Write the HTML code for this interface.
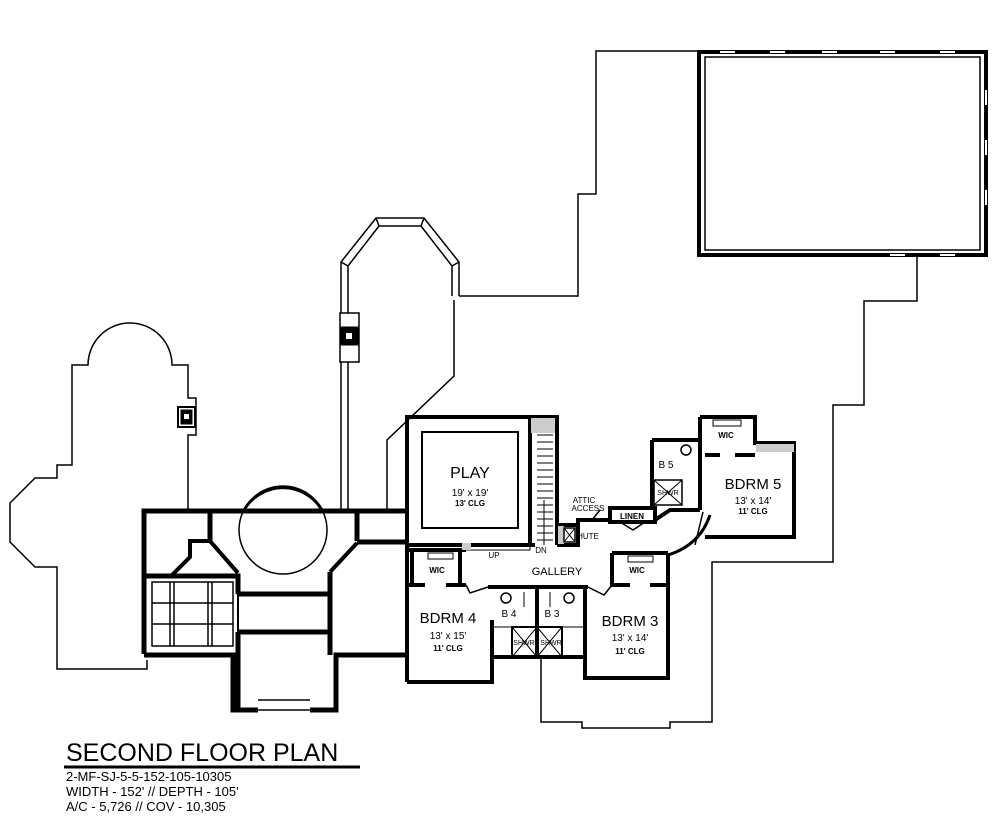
<!DOCTYPE html>
<html><head><meta charset="utf-8"><style>
html,body{margin:0;padding:0;background:#fff}
svg{display:block}
text{font-family:"Liberation Sans",Arial,sans-serif;fill:#000}
</style></head><body>
<svg width="1000" height="826" viewBox="0 0 1000 826" xmlns="http://www.w3.org/2000/svg">
<g fill="none" stroke="#000">
<path stroke-width="1.5" d="M459,296 L578,296 L578,194 L596,194 L596,51 L700,51"/>
<path stroke-width="1.5" d="M917,256 L917,301 L864,301 L864,405 L833,405 L833,562 L712,562 L712,722 L670,722 L670,728 L582,728 L582,722 L541,722 L541,657"/>
<path stroke-width="1.5" d="M454,300 L454,376 L387,440 L387,510"/>
<path stroke-width="1.5" d="M188,511 L188,435 L196,435 L196,398 L188,398 L188,365 L172,365 A42,42 0 0 0 88,365 L72,365 L72,465 L57,465 L57,478 L35,478 L10,503 L10,542 L35,567 L57,567 L57,669 L147,669 L147,660"/>
<rect x="178" y="407" width="17" height="20" stroke-width="2"/>
<rect x="181" y="410" width="11" height="14" fill="#000"/>
<rect x="184" y="414" width="5" height="5" fill="#fff" stroke="none"/>
<path stroke-width="1.5" d="M341,510 L341,262 L376,218 L424,218 L459,262 L459,296"/>
<path stroke-width="1.5" d="M348,510 L348,266 L379,226 L421,226 L452,266 L452,296"/>
<line x1="376" y1="218" x2="379" y2="226" stroke-width="1.5"/><line x1="424" y1="218" x2="421" y2="226" stroke-width="1.5"/>
<line x1="341" y1="262" x2="348" y2="266" stroke-width="1.5"/><line x1="459" y1="262" x2="452" y2="266" stroke-width="1.5"/>
<rect x="340" y="313" width="19" height="49" stroke-width="1.5" fill="#fff"/>
<rect x="340" y="327" width="18" height="18" fill="#000"/>
<rect x="346" y="333" width="6" height="6" fill="#fff" stroke="none"/>
<rect x="699" y="52" width="287" height="203" stroke-width="4"/>
<rect x="705" y="57" width="275" height="193" stroke-width="1.5"/>
<g stroke="#fff" stroke-width="2">
<path d="M720,52h15M770,52h15M822,52h15M880,52h15M940,52h15M890,255h15M940,255h15M986,90v15M986,140v15M986,190v15"/>
</g>
<g stroke-width="5">
<path d="M144,654 L144,511 L405,511"/>
<path d="M144,655 L233,655 L233,710 L258,710 M310,710 L336,710 L336,655 L407,655"/>
<path d="M210,511 L210,541"/>
<path d="M144,576 L238,576 L238,594"/>
<path d="M357,511 L357,541"/>
<path d="M357,542 L407,542"/>
<path d="M238,594 L330,594"/>
<path d="M238,632 L330,632"/>
<path d="M238,632 L238,710"/>
<path d="M330,572 L330,655"/>
</g>
<path stroke-width="1.5" d="M258,700 L310,700 M258,710 L310,710"/>
<path stroke-width="4" d="M172,575 L190,557 L190,541 L210,541 L238,573"/>
<path stroke-width="4" d="M357,543 L330,572"/>
<path stroke-width="2" d="M238,576 L238,632"/>
<rect x="152" y="582" width="81" height="64" stroke-width="1.5"/>
<path stroke-width="1.5" d="M152,603H233M152,624H233M170,582V646M212,582V646M174,582V646M208,582V646"/>
<circle cx="283" cy="530" r="44" stroke-width="1.5"/>
<path stroke-width="3" d="M243,512 A45,45 0 0 1 323,512"/>
<g stroke-width="4">
<path d="M407,682 L407,417 L557,417 L557,545"/>
<path d="M530,417 L530,545"/>
<path d="M407,545 L535,545"/>
<path d="M407,550 L466,550"/>
<path d="M412,550 L412,585 M460,550 L460,585 M407,585 L425,585 M446,585 L466,585"/>
<path d="M407,682 L492,682 L492,655"/>
<path d="M488,587 L588,587"/>
<path d="M492,620 L492,657 L585,657"/>
<path d="M537,587 L537,657"/>
<path d="M585,587 L585,678 L668,678 L668,553"/>
<path d="M612,553 L668,553"/>
<path d="M612,553 L612,585 L630,585 M650,585 L668,585"/>
<path d="M557,525 L578,525 L578,545 L557,545"/>
<path d="M578,545 L578,520 L610,520"/>
<path d="M610,508 L655,508 L655,522 L610,522 Z"/>
<path d="M655,520 L670,510 L700,510"/>
<path d="M652,440 L700,440 L700,510"/>
<path d="M652,440 L652,510"/>
<path d="M700,417 L755,417 L755,443 L794,443 L794,537 L705,537"/>
<path d="M700,417 L700,455 M705,455 L720,455 M735,455 L755,455"/>
</g>
<rect x="422" y="432" width="96" height="96" stroke-width="2"/>
<rect x="531" y="418" width="24" height="15" fill="#ccc" stroke="none"/>
<path stroke-width="1" d="M537,435H553M537,442H553M537,449H553M537,456H553M537,463H553M537,470H553M537,477H553M537,484H553M537,491H553M537,498H553M537,505H553M537,512H553M537,519H553M537,526H553M537,533H553M537,540H553M544,500V545"/>
<rect x="465" y="545" width="65" height="5" stroke-width="1"/>
<rect x="462" y="543" width="9" height="7" fill="#ccc" stroke="none"/>
<rect x="558" y="526" width="6" height="18" fill="#ccc" stroke="none"/>
<rect x="564" y="528" width="11" height="14" stroke-width="1.5"/>
<path stroke-width="1" d="M564,528L575,542M575,528L564,542"/>
<rect x="756" y="444" width="38" height="8" fill="#ccc" stroke="none"/>
<path stroke-width="3" d="M710,515 Q700,545 668,555"/>
<path stroke-width="1.5" d="M703,512 L695,545"/>
<path stroke-width="1.5" d="M466,585 L470,593 L488,587 M588,587 L604,595 L612,585 M620,522 L633,530 L645,522 M592,520 L600,510"/>
<rect x="512" y="627" width="25" height="30" stroke-width="2"/>
<rect x="537" y="627" width="25" height="30" stroke-width="2"/>
<path stroke-width="1" d="M512,627L537,657M537,627L512,657M537,627L562,657M562,627L537,657"/>
<rect x="654" y="480" width="28" height="25" stroke-width="1.5"/>
<path stroke-width="1" d="M654,480L682,505M682,480L654,505"/>
<circle cx="506" cy="598" r="5" stroke-width="1.5"/><circle cx="569" cy="598" r="5" stroke-width="1.5"/><circle cx="686" cy="450" r="5" stroke-width="1.5"/>
<path stroke-width="1" d="M524,592v15M550,592v15M492,627H585"/>
<rect x="428" y="553" width="25" height="6" stroke-width="1"/>
<rect x="628" y="556" width="25" height="6" stroke-width="1"/>
<rect x="713" y="420" width="28" height="6" stroke-width="1"/>
<line x1="64" y1="767" x2="360" y2="767" stroke-width="3"/>
</g>
<g font-size="15" text-anchor="middle">
<text x="470" y="478" font-size="16">PLAY</text>
<text x="470" y="496" font-size="10">19' x 19'</text>
<text x="470" y="506" font-size="8" font-weight="bold">13' CLG</text>
<text x="753" y="489" font-size="15">BDRM 5</text>
<text x="753" y="504" font-size="10">13' x 14'</text>
<text x="753" y="514" font-size="8" font-weight="bold">11' CLG</text>
<text x="448" y="623" font-size="15">BDRM 4</text>
<text x="448" y="639" font-size="10">13' x 15'</text>
<text x="448" y="651" font-size="8" font-weight="bold">11' CLG</text>
<text x="630" y="626" font-size="15">BDRM 3</text>
<text x="630" y="641" font-size="10">13' x 14'</text>
<text x="630" y="654" font-size="8" font-weight="bold">11' CLG</text>
<text x="557" y="575" font-size="11">GALLERY</text>
<text x="437" y="573" font-size="8" font-weight="bold">WIC</text>
<text x="637" y="573" font-size="8" font-weight="bold">WIC</text>
<text x="726" y="438" font-size="8" font-weight="bold">WIC</text>
<text x="509" y="617" font-size="10">B 4</text>
<text x="552" y="617" font-size="10">B 3</text>
<text x="666" y="468" font-size="10">B 5</text>
<text x="632" y="519" font-size="8" font-weight="bold">LINEN</text>
<text x="494" y="558" font-size="8">UP</text>
<text x="541" y="553" font-size="8">DN</text>
<text x="588" y="539" font-size="8">HUTE</text>
<text x="584" y="503" font-size="8">ATTIC</text>
<text x="588" y="511" font-size="8">ACCESS</text>
<text x="524" y="645" font-size="7">SHWR</text>
<text x="551" y="645" font-size="7">SHWR</text>
<text x="668" y="495" font-size="7">SHWR</text>
</g>
<text x="66" y="761" font-size="25">SECOND FLOOR PLAN</text>
<text x="66" y="781" font-size="13">2-MF-SJ-5-5-152-105-10305</text>
<text x="66" y="796" font-size="13">WIDTH - 152' // DEPTH - 105'</text>
<text x="66" y="811" font-size="13">A/C - 5,726 // COV - 10,305</text>
</svg>
</body></html>
